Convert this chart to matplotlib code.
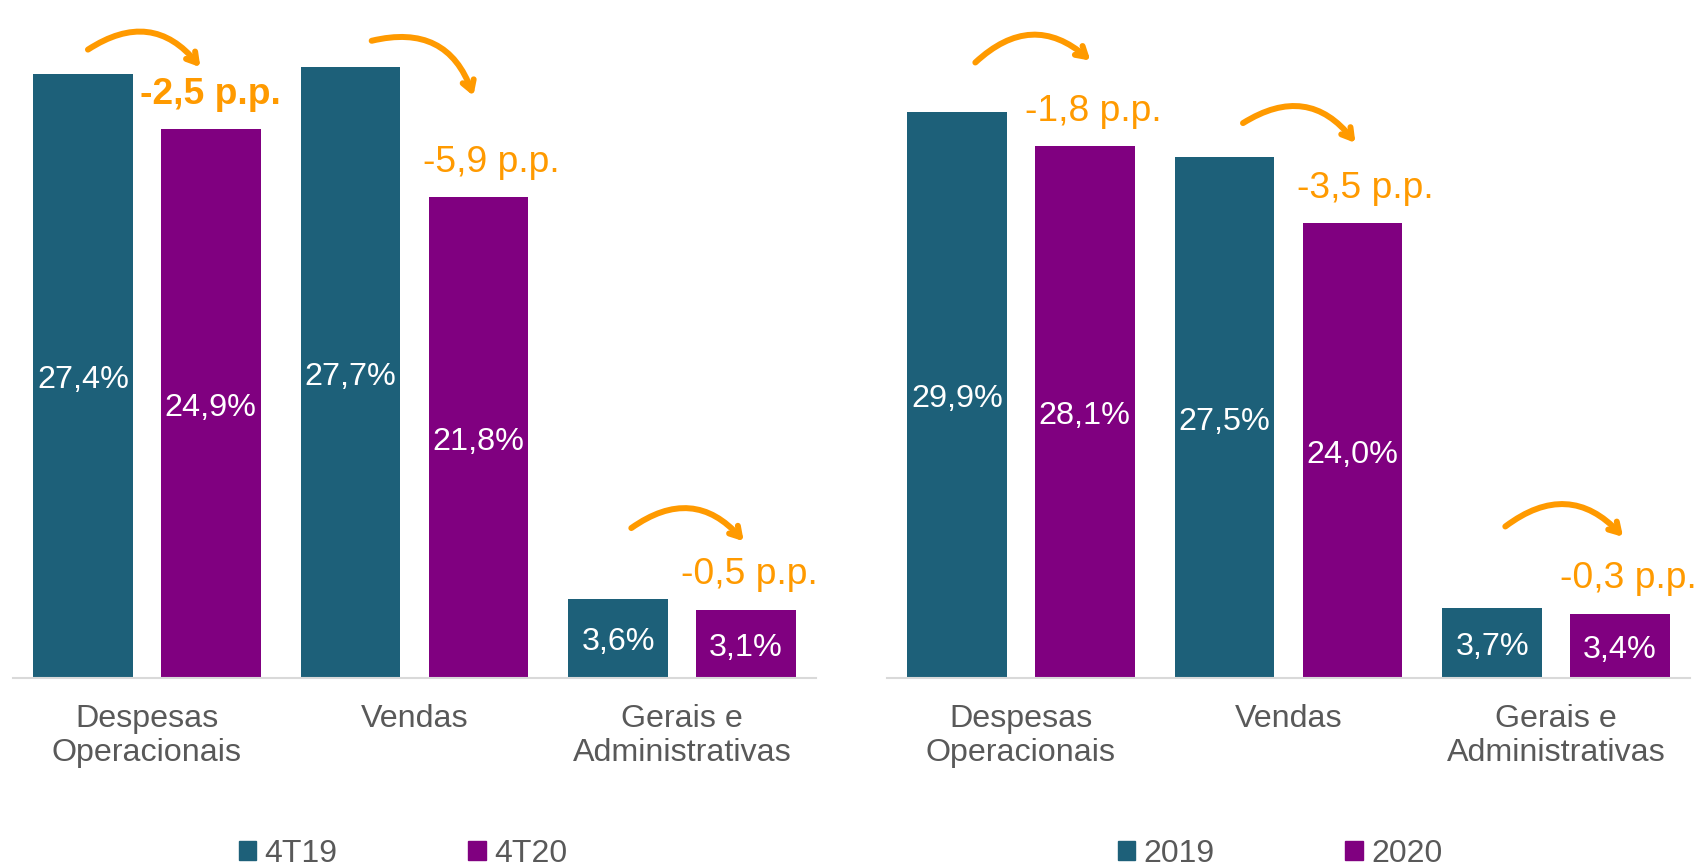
import matplotlib
matplotlib.use('Agg')
import numpy as np
import matplotlib.pyplot as plt
from matplotlib.patches import Patch

plt.rcParams['font.family'] = ['Liberation Sans', 'DejaVu Sans']

# data
categories = ['Despesas\nOperacionais', 'Vendas', 'Gerais e\nAdministrativas']

left_series = ['4T19', '4T20']
left_prev = [27.4, 27.7, 3.6]
left_curr = [24.9, 21.8, 3.1]
left_delta = ['-2,5 p.p.', '-5,9 p.p.', '-0,5 p.p.']

right_series = ['2019', '2020']
right_prev = [29.9, 27.5, 3.7]
right_curr = [28.1, 24.0, 3.4]
right_delta = ['-1,8 p.p.', '-3,5 p.p.', '-0,3 p.p.']

TEAL = '#1D6079'
PURPLE = '#800080'
ORANGE = '#FF9A00'
GRAY = '#595959'

# curved arrows (start, end) in data coords for each panel
left_arrows = [((-0.22, 28.5), (0.20, 27.7)),
               ((0.84, 28.9), (1.22, 26.4)),
               ((1.81, 6.8), (2.23, 6.2))]
right_arrows = [((-0.17, 32.5), (0.26, 32.6)),
                ((0.83, 29.3), (1.25, 28.25)),
                ((1.81, 8.0), (2.25, 7.45))]

W, H = 1701, 866
fig = plt.figure(figsize=(W / 100, H / 100), dpi=100)

def panel(rect, prev, curr, deltas, arrows, ytop, bold_first, label_dx):
    ax = fig.add_axes(rect)
    x = np.arange(len(categories))
    off, bw = 0.239, 0.372
    b1 = ax.bar(x - off, prev, bw, color=TEAL)
    b2 = ax.bar(x + off, curr, bw, color=PURPLE)
    for bars, vals in ((b1, prev), (b2, curr)):
        for r, v in zip(bars, vals):
            ax.annotate(('%.1f%%' % v).replace('.', ','),
                        (r.get_x() + r.get_width() / 2, v / 2),
                        xytext=(0, -3), textcoords='offset points',
                        ha='center', va='center', color='white', fontsize=23.3)
    for i, (r, d) in enumerate(zip(b2, deltas)):
        ax.annotate(d, (r.get_x() + r.get_width() / 2, r.get_height()),
                    xytext=(label_dx[i], 25), textcoords='offset points',
                    ha='center', va='center', color=ORANGE, fontsize=26.8,
                    fontweight='bold' if (bold_first and i == 0) else 'normal')
    for s, e in arrows:
        ax.annotate('', xy=e, xytext=s,
                    arrowprops=dict(arrowstyle='->,head_length=0.7,head_width=0.42',
                                    connectionstyle='arc3,rad=-0.45',
                                    color=ORANGE, lw=4.3, capstyle='round',
                                    joinstyle='round', shrinkA=0, shrinkB=0))
    ax.set_xlim(-0.5, 2.5)
    ax.set_ylim(0, ytop)
    ax.set_yticks([])
    ax.set_xticks(x)
    ax.set_xticklabels(categories, fontsize=23.2, color=GRAY, linespacing=1.15)
    ax.tick_params(axis='x', length=0, pad=19)
    for sp in ('top', 'left', 'right'):
        ax.spines[sp].set_visible(False)
    ax.spines['bottom'].set_color('#D9D9D9')
    ax.spines['bottom'].set_linewidth(1.5)
    return ax

ax1 = panel([13 / W, 1 - 678 / H, 803 / W, 678 / H], left_prev, left_curr,
            left_delta, left_arrows, 30.75, True, [0, 9, 2])
ax2 = panel([887 / W, 1 - 678 / H, 803 / W, 678 / H], right_prev, right_curr,
            right_delta, right_arrows, 35.8, False, [6, 9, 6])

for names, cx in ((left_series, 403), (right_series, 1280)):
    handles = [Patch(color=TEAL, label=names[0]), Patch(color=PURPLE, label=names[1])]
    fig.legend(handles=handles, loc='center', bbox_to_anchor=(cx / W, 12 / H),
               ncol=2, frameon=False, fontsize=23, labelcolor=GRAY,
               handlelength=0.55, handleheight=0.55, handletextpad=0.25,
               columnspacing=4.1, borderaxespad=0, borderpad=0)

fig.savefig('out.png', dpi=100)
